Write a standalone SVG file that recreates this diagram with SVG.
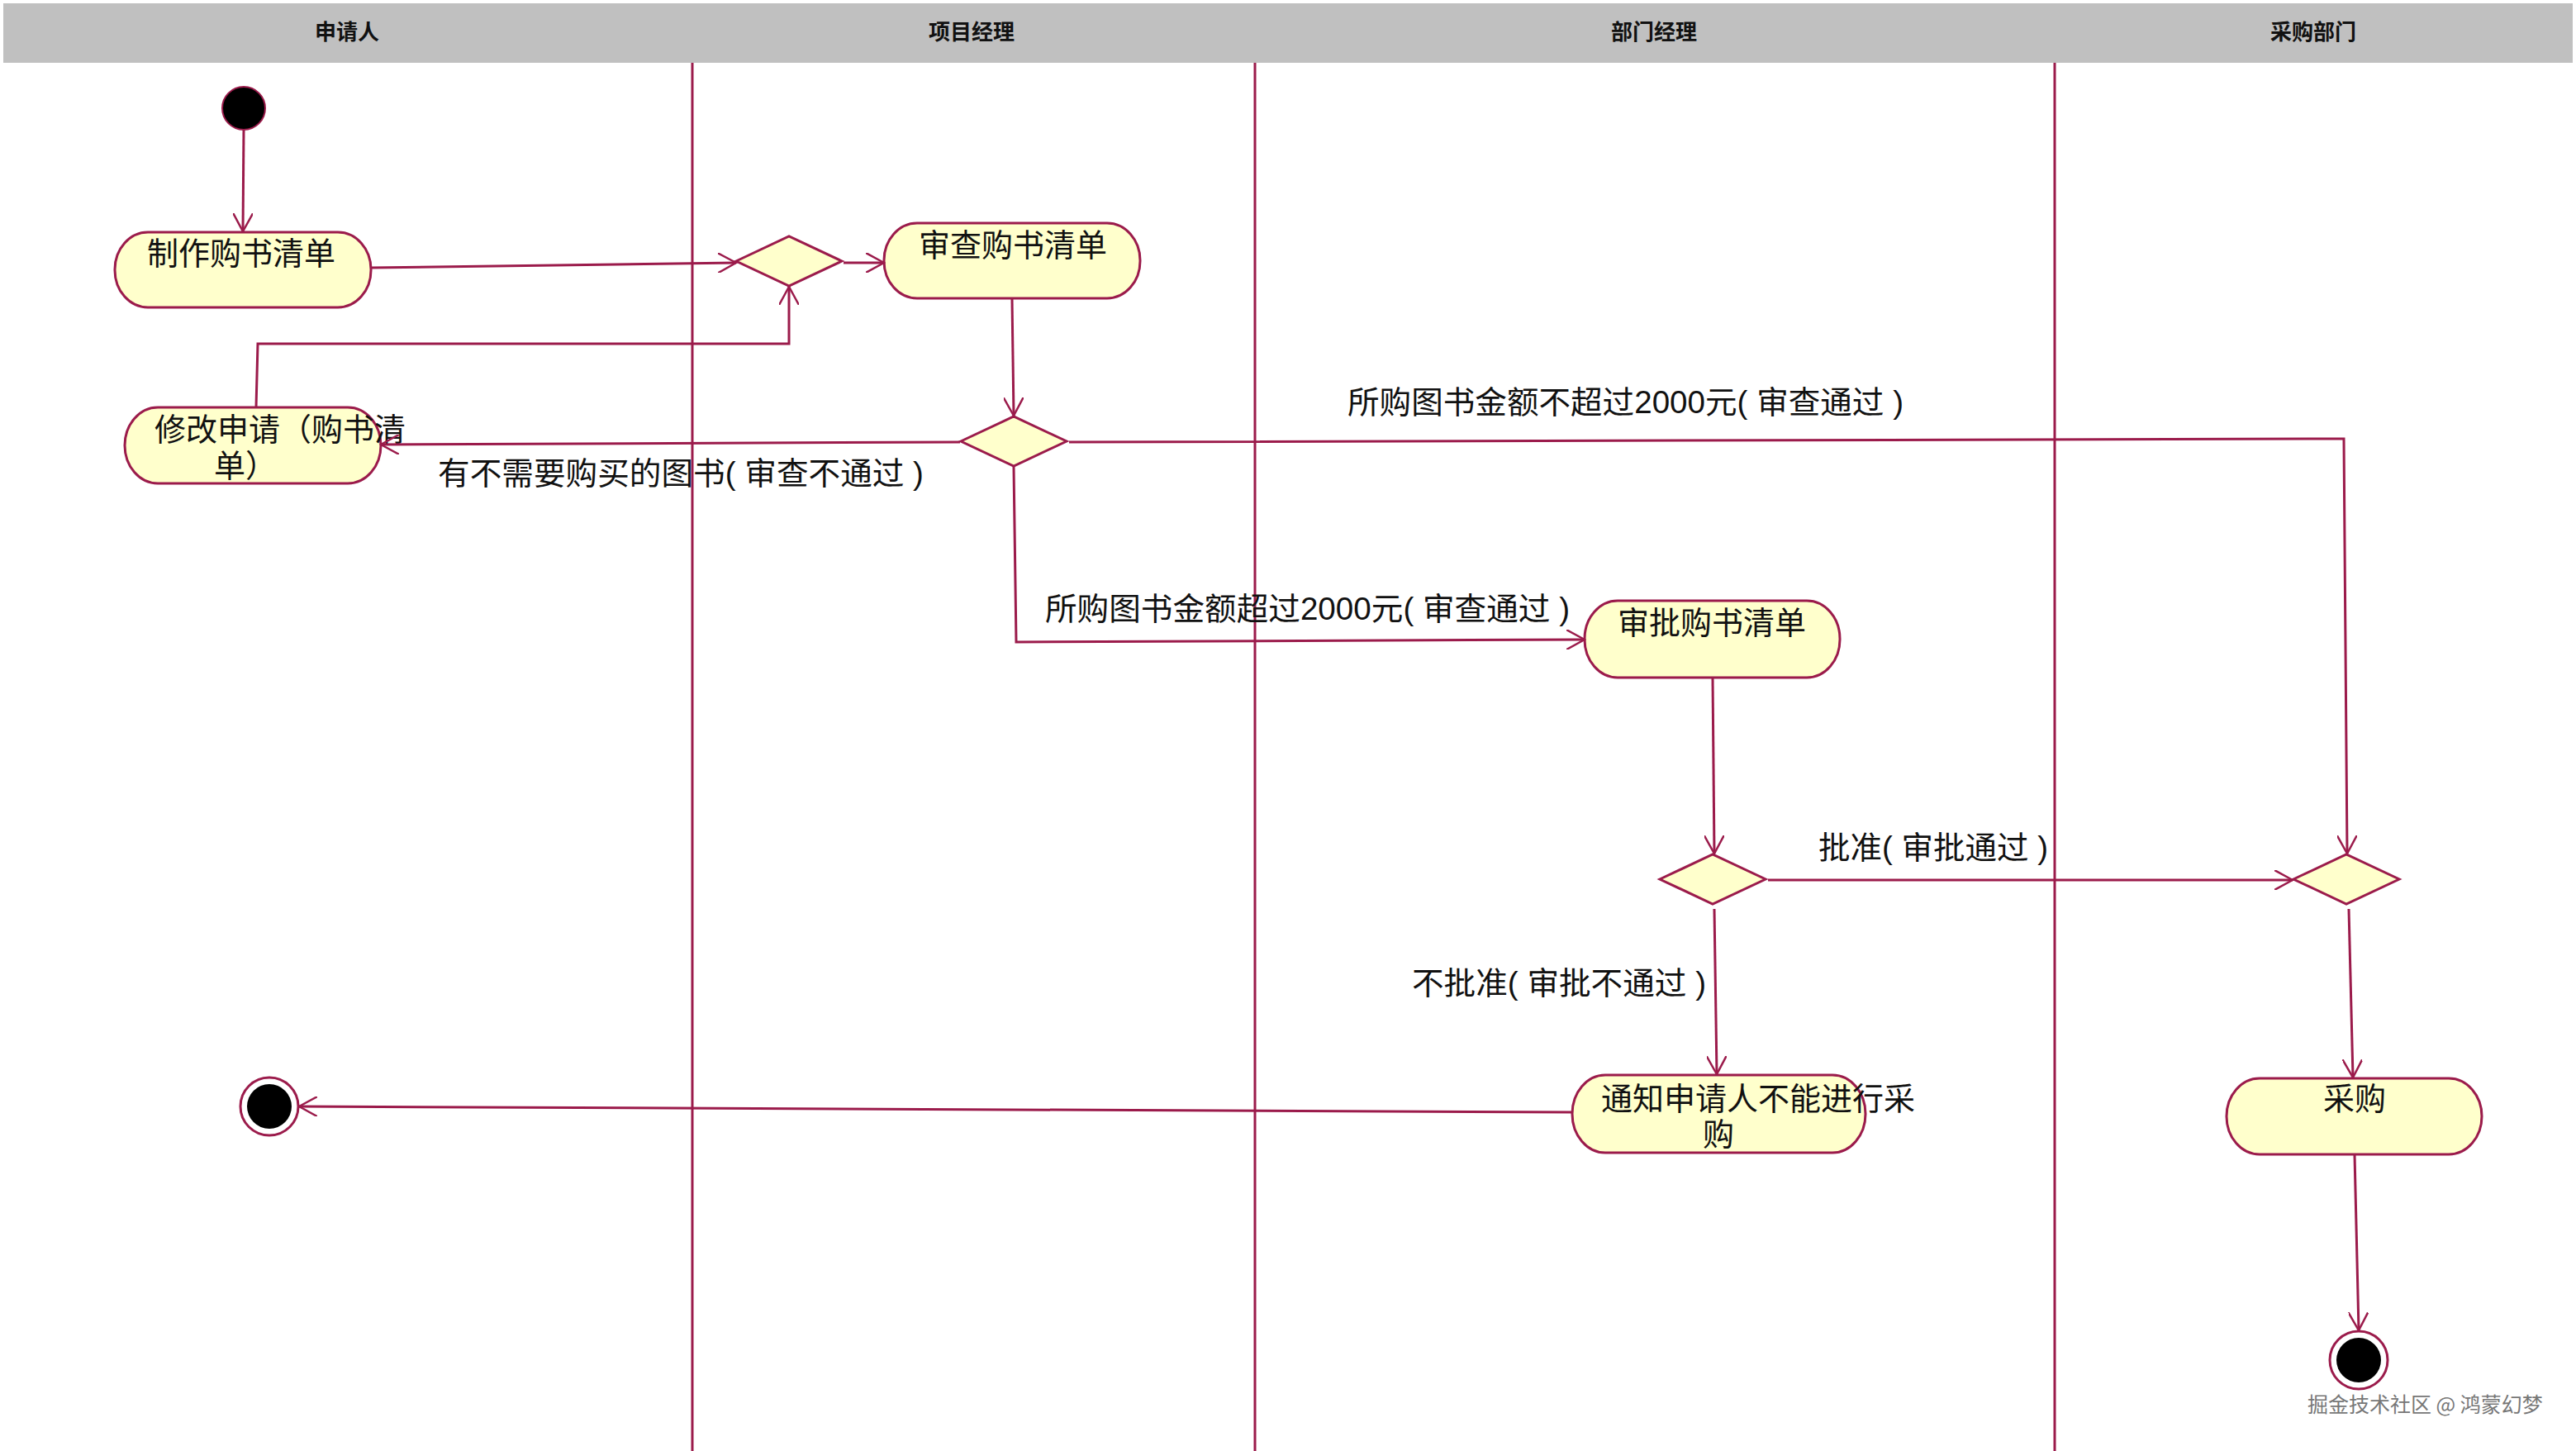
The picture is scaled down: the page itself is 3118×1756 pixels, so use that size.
<svg xmlns="http://www.w3.org/2000/svg" width="3118" height="1756" viewBox="0 0 3118 1756">
<style>
.ln{fill:none;stroke:#9b1b4b;stroke-width:3}
.nd{fill:#ffffcc;stroke:#9b1b4b;stroke-width:3}
.t{font-family:"Liberation Sans","Noto Sans CJK SC",sans-serif;font-size:38px;fill:#111}
.h{font-family:"Liberation Sans","Noto Sans CJK SC",sans-serif;font-size:26px;font-weight:bold;fill:#111;text-anchor:middle}
.c{text-anchor:middle}
</style>
<defs>
<marker id="a" viewBox="0 0 24 24" refX="22" refY="12" markerWidth="24" markerHeight="24" markerUnits="userSpaceOnUse" orient="auto">
<path d="M0,0 L22,12 L0,24" fill="none" stroke="#9b1b4b" stroke-width="2.5"/>
</marker>
</defs>
<rect width="3118" height="1756" fill="#fff"/>
<g id="header">
<rect x="4" y="4" width="3110" height="72" fill="#c0c0c0"/>
<text class="h" x="420" y="48">申请人</text>
<text class="h" x="1176" y="48">项目经理</text>
<text class="h" x="2002" y="48">部门经理</text>
<text class="h" x="2800" y="48">采购部门</text>
</g>
<g id="lanes" class="ln">
<line x1="838" y1="76" x2="838" y2="1756"/>
<line x1="1519" y1="76" x2="1519" y2="1756"/>
<line x1="2487" y1="76" x2="2487" y2="1756"/>
</g>
<g id="start"><circle cx="295" cy="131" r="26" fill="#000" stroke="#9b1b4b" stroke-width="2"/></g>
<g id="n1"><rect class="nd" x="139" y="281" width="310" height="91" rx="40" ry="45"/><text class="t c" x="292" y="320">制作购书清单</text></g>
<g id="d1"><polygon class="nd" points="891,316 955,286 1019,316 955,346"/></g>
<g id="n2"><rect class="nd" x="1070" y="270" width="310" height="91" rx="40" ry="45"/><text class="t c" x="1226" y="310">审查购书清单</text></g>
<g id="d2"><polygon class="nd" points="1163,534 1227,504 1291,534 1227,564"/></g>
<g id="n3"><rect class="nd" x="151" y="493" width="310" height="92" rx="40" ry="46"/><text class="t" x="187" y="533">修改申请（购书清</text><text class="t c" x="297" y="577">单）</text></g>
<g id="n4"><rect class="nd" x="1918" y="727" width="309" height="93" rx="40" ry="46"/><text class="t c" x="2072" y="767">审批购书清单</text></g>
<g id="d3"><polygon class="nd" points="2009,1064 2073,1034 2137,1064 2073,1094"/></g>
<g id="d4"><polygon class="nd" points="2776,1064 2840,1034 2904,1064 2840,1094"/></g>
<g id="n5"><rect class="nd" x="1903" y="1301" width="355" height="94" rx="40" ry="47"/><text class="t" x="1938" y="1343">通知申请人不能进行采</text><text class="t c" x="2080" y="1386">购</text></g>
<g id="n6"><rect class="nd" x="2695" y="1305" width="309" height="92" rx="40" ry="46"/><text class="t c" x="2850" y="1343">采购</text></g>
<g id="end1"><circle cx="326" cy="1339" r="35" fill="#fff" stroke="#9b1b4b" stroke-width="3"/><circle cx="326" cy="1339" r="27" fill="#000"/></g>
<g id="end2"><circle cx="2855" cy="1646" r="35" fill="#fff" stroke="#9b1b4b" stroke-width="3"/><circle cx="2855" cy="1646" r="27" fill="#000"/></g>
<g id="connectors" class="ln">
<path marker-end="url(#a)" d="M295,157 L294,280"/>
<path marker-end="url(#a)" d="M449,324 L891,318"/>
<path marker-end="url(#a)" d="M1021,318 L1070,318"/>
<path marker-end="url(#a)" d="M310,493 L312,416 L955,416 L955,347"/>
<path marker-end="url(#a)" d="M1225,361 L1227,503"/>
<path marker-end="url(#a)" d="M1162,535 L461,538"/>
<path marker-end="url(#a)" d="M1294,535 L2837,531 L2841,1033"/>
<path marker-end="url(#a)" d="M1227,565 L1230,777 L1918,774"/>
<path marker-end="url(#a)" d="M2073,820 L2075,1033"/>
<path marker-end="url(#a)" d="M2140,1065 L2775,1065"/>
<path marker-end="url(#a)" d="M2075,1100 L2078,1300"/>
<path marker-end="url(#a)" d="M2843,1100 L2848,1304"/>
<path marker-end="url(#a)" d="M2850,1397 L2855,1610"/>
<path marker-end="url(#a)" d="M1903,1346 L362,1339"/>
</g>
<g id="labels">
<text class="t" x="530" y="586" textLength="588" lengthAdjust="spacingAndGlyphs">有不需要购买的图书( 审查不通过 )</text>
<text class="t" x="1631" y="500" textLength="673" lengthAdjust="spacingAndGlyphs">所购图书金额不超过2000元( 审查通过 )</text>
<text class="t" x="1265" y="750" textLength="635" lengthAdjust="spacingAndGlyphs">所购图书金额超过2000元( 审查通过 )</text>
<text class="t" x="2201" y="1039" textLength="278" lengthAdjust="spacingAndGlyphs">批准( 审批通过 )</text>
<text class="t" x="1709" y="1203" textLength="356" lengthAdjust="spacingAndGlyphs">不批准( 审批不通过 )</text>
<text x="2793" y="1709" font-family="'Noto Sans CJK SC',sans-serif" font-size="25" fill="#777">掘金技术社区 @ 鸿蒙幻梦</text>
</g>
</svg>
